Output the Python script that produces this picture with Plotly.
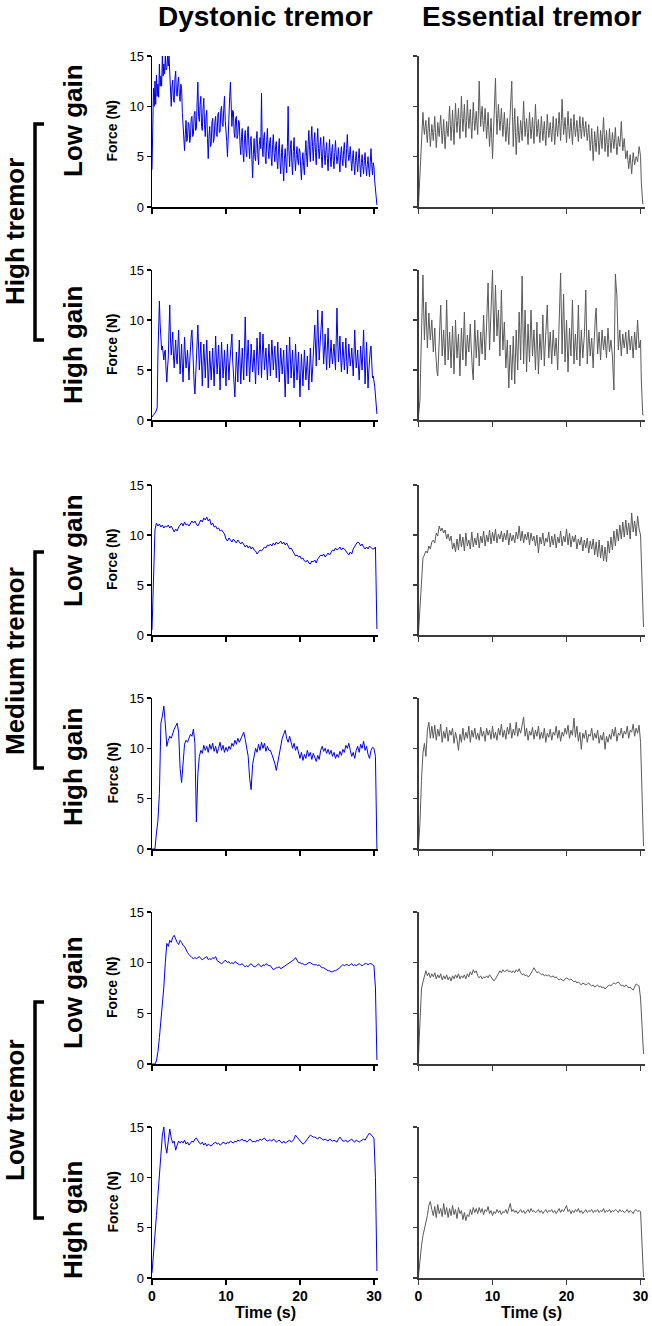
import plotly.graph_objects as go

# ---------------- data (force in N) ----------------
# high-tremor traces sampled every 0.1 s, the others every 0.2 s
STEP_FAST = 0.1
STEP_SLOW = 0.2

# Dystonic tremor
dt_high_low = [
    3.7, 9.5, 11.8, 10.0, 12.5, 10.2, 13.1, 11.0, 12.2, 10.9, 14.2, 12.0, 13.0, 12.0, 15.0, 13.0, 14.2, 13.2, 15.0, 13.6,
    13.8, 15.0, 14.0, 15.0, 12.9, 11.5, 10.0, 12.0, 12.6, 10.6, 10.4, 12.8, 13.5, 11.2, 11.0, 12.4, 12.9, 11.0, 10.5, 12.2,
    11.8, 9.4, 8.0, 7.0, 5.6, 7.2, 8.6, 6.5, 6.8, 8.4, 8.2, 6.4, 6.9, 8.8, 9.0, 7.0, 7.2, 9.2, 9.5, 7.6,
    7.8, 10.5, 12.4, 9.0, 8.5, 10.2, 11.0, 8.0, 7.6, 9.8, 10.8, 8.2, 7.0, 9.0, 9.6, 6.8, 4.8, 7.0, 8.0, 6.0,
    6.2, 8.4, 8.8, 6.4, 6.8, 8.5, 9.0, 7.2, 7.0, 9.2, 9.4, 7.4, 7.5, 9.6, 10.0, 8.2, 8.0, 9.8, 11.0, 8.6,
    7.8, 6.5, 5.0, 8.0, 9.5, 11.0, 12.4, 9.0, 8.0, 9.6, 9.5, 7.4, 6.9, 8.8, 9.0, 6.8, 7.2, 8.6, 8.4, 6.2,
    5.2, 7.0, 7.8, 5.4, 4.5, 6.8, 7.6, 5.6, 5.0, 7.4, 8.0, 6.0, 4.8, 6.6, 7.0, 4.8, 2.9, 5.2, 6.8, 5.0,
    4.6, 6.8, 7.5, 5.2, 4.2, 6.2, 6.9, 5.8, 11.3, 6.0, 5.0, 6.9, 7.4, 5.0, 4.3, 6.6, 7.8, 5.6, 4.8, 6.4,
    6.9, 5.0, 4.1, 6.2, 7.2, 5.4, 4.5, 6.0, 6.5, 4.6, 3.8, 5.8, 6.8, 4.4, 3.3, 5.4, 6.2, 4.0, 2.6, 4.8,
    5.8, 4.4, 3.4, 6.0, 10.0, 5.6, 4.0, 5.8, 6.6, 4.4, 3.2, 5.5, 6.9, 4.8, 3.6, 5.2, 6.0, 4.6, 4.2, 5.8,
    5.5, 3.8, 2.7, 4.6, 5.4, 4.0, 3.2, 5.4, 6.6, 5.0, 4.0, 6.2, 7.6, 5.6, 4.5, 6.6, 8.0, 6.0, 4.6, 6.4,
    7.4, 5.4, 4.2, 6.4, 7.8, 5.8, 4.8, 6.0, 6.9, 5.0, 3.9, 5.8, 7.0, 5.2, 4.2, 5.6, 6.4, 4.8, 3.6, 5.4,
    6.7, 5.0, 4.0, 5.6, 6.2, 4.6, 3.8, 5.4, 6.6, 5.2, 4.3, 5.0, 5.9, 4.4, 3.5, 5.2, 6.0, 4.8, 4.1, 5.6,
    6.4, 4.8, 3.9, 5.8, 7.2, 5.4, 4.6, 5.2, 6.0, 4.6, 3.6, 4.8, 5.6, 4.2, 3.2, 4.6, 5.5, 4.4, 3.5, 4.8,
    5.8, 4.2, 3.0, 4.4, 5.2, 4.0, 3.3, 4.6, 5.4, 4.0, 3.1, 4.2, 5.0, 3.8, 3.0, 4.4, 5.8, 4.2, 3.2, 4.4,
    4.0, 2.6, 1.5, 0.6, 0.2,
]
dt_high_high = [
    0.3, 0.4, 0.5, 0.5, 0.6, 0.8, 1.0, 1.2, 6.5, 10.0, 11.9, 9.6, 8.3, 7.0, 7.4, 6.2, 6.0, 6.8, 7.0, 5.0,
    3.8, 5.2, 6.2, 9.0, 11.5, 8.0, 6.5, 7.6, 8.8, 6.4, 5.2, 6.8, 8.0, 6.2, 5.6, 7.4, 9.0, 6.6, 4.6, 6.0,
    7.6, 5.4, 3.8, 6.2, 8.3, 6.6, 5.2, 6.0, 7.0, 5.6, 4.0, 5.8, 7.8, 8.4, 9.0, 6.6, 5.0, 3.6, 2.6, 4.8,
    7.0, 8.4, 9.5, 7.2, 5.0, 6.4, 7.8, 5.6, 3.4, 5.8, 7.6, 6.0, 4.2, 6.2, 8.0, 5.8, 3.2, 5.0, 6.9, 5.4,
    4.0, 5.6, 7.2, 5.2, 3.4, 6.0, 8.4, 6.2, 4.6, 6.0, 7.5, 5.4, 3.0, 5.6, 7.8, 6.0, 4.2, 5.4, 7.0, 5.2,
    3.4, 5.8, 7.6, 5.6, 4.0, 5.6, 7.1, 7.8, 8.6, 6.0, 4.2, 3.0, 2.3, 4.6, 6.8, 5.4, 3.8, 6.0, 8.0, 5.8,
    3.6, 5.4, 7.2, 5.6, 4.0, 7.0, 10.3, 7.2, 4.4, 6.4, 8.0, 5.8, 3.8, 5.6, 7.6, 6.2, 4.8, 5.8, 7.0, 5.2,
    3.6, 6.0, 8.2, 6.4, 4.5, 6.6, 8.8, 6.6, 4.2, 6.4, 8.6, 6.8, 5.0, 6.2, 7.2, 5.6, 4.0, 5.8, 7.6, 6.0,
    4.4, 6.2, 8.0, 6.6, 5.0, 6.4, 7.4, 5.8, 4.2, 6.0, 7.8, 5.8, 3.8, 5.6, 7.2, 5.8, 4.6, 5.8, 7.0, 4.6,
    2.3, 4.8, 7.5, 5.6, 3.6, 6.0, 8.3, 6.2, 4.2, 5.6, 7.0, 5.0, 3.2, 5.4, 7.6, 5.8, 4.0, 5.4, 6.8, 4.6,
    2.3, 4.6, 6.6, 5.0, 3.4, 5.2, 7.0, 5.4, 4.0, 5.2, 6.4, 4.6, 3.0, 5.0, 7.2, 5.4, 3.8, 5.0, 6.0, 8.0,
    9.5, 7.0, 5.4, 8.2, 11.0, 8.0, 6.0, 7.4, 8.8, 9.8, 10.9, 7.8, 5.6, 7.0, 8.6, 6.8, 5.0, 7.2, 9.2, 7.0,
    5.2, 6.6, 8.0, 6.4, 5.6, 6.8, 7.6, 6.2, 5.0, 8.0, 11.2, 8.0, 5.8, 7.0, 8.4, 6.4, 4.8, 6.2, 7.8, 6.4,
    5.0, 6.6, 8.2, 6.2, 4.6, 6.0, 7.6, 6.4, 5.4, 6.2, 7.2, 5.8, 4.4, 6.6, 9.0, 7.0, 5.2, 6.0, 7.0, 5.4,
    4.0, 5.6, 7.4, 6.0, 5.0, 7.0, 9.0, 6.2, 3.6, 5.6, 7.8, 5.4, 3.2, 4.8, 6.4, 7.0, 7.4, 5.6, 4.2, 4.4,
    4.0, 3.4, 2.5, 1.4, 0.6,
]
dt_med_low = [
    0.5, 5.5, 10.5, 11.2, 10.9, 11.1, 10.8, 11.0, 10.7, 10.9,
    10.8, 11.0, 10.7, 10.9, 10.5, 10.3, 10.6, 10.4, 10.8, 11.0,
    11.2, 10.9, 11.3, 11.0, 11.1, 10.9, 11.2, 11.4, 11.2, 11.4,
    11.1, 10.9, 11.2, 11.5, 11.3, 11.7, 11.5, 11.8, 11.4, 11.6,
    11.0, 11.2, 10.8, 10.9, 10.6, 10.7, 10.4, 10.5, 10.3, 10.1,
    9.6, 9.4, 9.7, 9.5, 9.3, 9.6, 9.4, 9.2, 9.5, 9.3,
    9.1, 9.3, 9.0, 8.8, 9.0, 8.7, 8.9, 8.6, 8.8, 8.5,
    8.4, 8.1, 8.3, 8.5, 8.4, 8.6, 8.8, 8.7, 9.0, 8.9,
    9.1, 8.9, 9.2, 9.0, 9.3, 9.1, 9.2, 9.4, 9.1, 9.3,
    9.0, 9.2, 8.9, 8.6, 8.7, 8.4, 8.2, 7.9, 8.0, 7.8,
    7.9, 7.6, 7.7, 7.4, 7.3, 7.5, 7.2, 7.1, 7.4, 7.3,
    7.5, 7.2, 7.6, 7.8, 8.0, 7.9, 8.1, 7.8, 8.0, 8.2,
    8.0, 8.3, 8.5, 8.4, 8.7, 8.5, 8.6, 8.8, 8.5, 8.7,
    8.6, 8.4, 8.2, 8.0, 8.3, 8.1, 8.6, 8.9, 9.1, 9.3,
    9.2, 8.9, 9.1, 8.8, 8.6, 8.8, 8.6, 8.9, 8.7, 8.6,
    8.6, 8.8, 0.6,
]
dt_med_high = [
    0.0, 0.0, 0.0, 1.6, 2.8, 5.5, 12.5, 13.2, 14.2, 12.4,
    10.2, 10.8, 11.2, 11.0, 11.6, 11.9, 12.2, 12.5, 11.6, 8.0,
    6.6, 8.6, 10.4, 10.8, 10.6, 11.0, 11.4, 11.2, 11.9, 10.5,
    2.7, 7.5, 9.2, 9.8, 9.5, 10.3, 9.8, 10.2, 9.6, 10.4,
    9.9, 10.5, 9.7, 10.2, 9.5, 10.0, 10.6, 9.8, 10.3, 9.6,
    10.1, 9.7, 10.2, 9.9, 10.5, 10.2, 10.8, 10.4, 11.0, 10.6,
    11.0, 11.4, 11.6, 10.9, 10.2, 9.2, 7.0, 5.9, 8.4, 9.4,
    10.0, 9.6, 10.4, 9.8, 10.6, 10.0, 10.5, 9.7, 10.2, 9.8,
    9.8, 9.4, 9.0, 8.5, 7.8, 8.6, 9.8, 10.5, 11.0, 11.4,
    11.8, 11.0, 10.6, 11.2, 10.4, 10.0, 10.5, 9.8, 10.2, 9.4,
    9.0, 9.6, 8.8, 9.4, 9.0, 9.8, 9.2, 9.6, 8.9, 9.5,
    9.1, 8.7, 9.3, 8.9, 9.8, 10.2, 9.7, 10.0, 9.5, 9.9,
    9.4, 9.8, 9.2, 9.6, 9.0, 9.4, 9.1, 9.7, 9.3, 9.9,
    9.6, 10.3, 10.0, 10.5, 9.8, 9.2, 9.6, 9.0, 9.8, 10.2,
    9.6, 10.4, 10.0, 10.7, 9.8, 10.2, 9.4, 9.0, 9.8, 10.1,
    10.0, 9.2, 0.0,
]
dt_low_low = [
    0.0, 0.0, 0.0, 0.3, 1.2, 2.6, 4.2, 5.9, 7.6, 10.0,
    11.9, 11.6, 12.2, 12.0, 12.5, 12.7, 12.3, 12.0, 11.8, 12.2,
    12.0, 11.7, 11.6, 11.2, 11.0, 10.8, 10.6, 10.5, 10.4, 10.5,
    10.4, 10.5, 10.6, 10.4, 10.3, 10.4, 10.5, 10.6, 10.3, 10.4,
    10.3, 10.5, 10.4, 10.6, 10.2, 10.1, 10.0, 9.9, 10.0, 10.2,
    10.2, 10.0, 10.1, 9.9, 10.0, 9.9, 10.1, 10.0, 9.9, 9.8,
    9.8, 9.9, 9.7, 9.6, 9.7, 9.6, 9.8, 9.9, 9.7, 9.6,
    9.6, 9.8, 9.9, 9.7, 9.6, 9.8, 9.7, 9.9, 9.8, 9.7,
    9.7, 9.5, 9.3, 9.4, 9.5, 9.5, 9.6, 9.4, 9.5, 9.6,
    9.7, 9.8, 9.9, 10.0, 10.1, 10.2, 10.3, 10.5, 10.2, 10.0,
    10.0, 9.9, 9.9, 9.8, 9.8, 9.9, 10.0, 10.0, 9.9, 9.8,
    9.8, 9.8, 9.7, 9.8, 9.6, 9.5, 9.5, 9.4, 9.3, 9.2,
    9.2, 9.1, 9.1, 9.2, 9.2, 9.3, 9.4, 9.5, 9.7, 9.8,
    9.7, 9.8, 9.8, 9.7, 9.8, 9.9, 9.7, 9.8, 9.7, 9.8,
    9.9, 9.8, 9.7, 9.8, 9.9, 9.9, 9.8, 9.9, 9.9, 9.8,
    9.7, 7.5, 0.4,
]
dt_low_high = [
    0.5, 2.2, 4.2, 6.2, 8.2, 10.2, 12.2, 14.2, 15.0, 13.2,
    12.4, 13.8, 14.8, 13.9, 13.4, 13.6, 12.7, 13.2, 13.6, 13.4,
    13.6, 13.4, 13.7, 13.3, 13.5, 13.2, 13.4, 13.6, 13.5, 13.8,
    13.9, 13.6, 13.4, 13.3, 13.5, 13.2, 13.4, 13.1, 13.3, 13.2,
    13.1, 13.3, 13.4, 13.5, 13.3, 13.4, 13.2, 13.3, 13.5, 13.4,
    13.3, 13.5, 13.4, 13.6, 13.5, 13.4, 13.6, 13.5, 13.7, 13.6,
    13.7, 13.8, 13.6, 13.7, 13.5, 13.6, 13.8, 13.7, 13.5, 13.6,
    13.5, 13.7, 13.6, 13.8, 13.7, 13.8, 13.9, 13.7, 13.6, 13.7,
    13.7, 13.6, 13.8, 13.7, 13.5, 13.6, 13.7, 13.5, 13.4, 13.6,
    13.4, 13.5, 13.6, 13.7, 13.5, 13.6, 13.8, 14.2, 14.0, 13.8,
    13.7, 13.5, 13.3, 13.4, 13.6, 13.8, 14.0, 14.2, 14.1, 14.0,
    14.0, 13.9, 13.8, 14.0, 13.9, 13.8, 13.7, 13.8, 13.7, 13.6,
    13.8, 13.7, 13.6, 13.7, 13.6, 13.5, 13.8, 14.0, 13.8, 13.6,
    13.6, 13.7, 13.5, 13.6, 13.7, 13.8, 13.6, 13.5, 13.7, 13.6,
    13.5, 13.6, 13.7, 13.8, 13.7, 14.0, 14.2, 14.4, 14.2, 14.0,
    13.9, 10.0, 0.7,
]

# Essential tremor
et_high_low = [
    0.2, 1.8, 3.5, 5.2, 6.5, 8.0, 9.4, 8.0, 7.2, 8.0, 8.6, 7.2, 6.4, 7.8, 8.9, 7.4, 6.0, 7.0, 8.2, 7.4,
    6.6, 7.8, 9.0, 7.4, 5.9, 7.0, 8.4, 7.6, 7.0, 8.2, 9.1, 7.6, 6.3, 7.4, 8.7, 7.0, 5.8, 7.2, 8.5, 7.6,
    7.0, 8.6, 10.0, 8.2, 6.6, 8.0, 9.6, 7.8, 6.2, 8.4, 10.3, 8.6, 7.4, 8.6, 9.8, 8.2, 6.8, 8.8, 11.0, 9.0,
    7.5, 8.8, 10.2, 8.4, 6.9, 8.6, 10.6, 9.0, 7.8, 8.8, 9.7, 8.0, 6.8, 8.6, 10.4, 8.8, 7.6, 8.6, 9.5, 8.2,
    7.2, 9.6, 12.5, 9.8, 8.0, 9.2, 10.0, 8.6, 7.5, 8.6, 9.8, 8.2, 6.8, 8.0, 9.4, 7.6, 6.0, 7.4, 8.8, 6.8,
    4.8, 6.8, 8.9, 11.0, 12.8, 9.6, 7.2, 8.8, 10.2, 8.8, 7.6, 8.6, 9.8, 8.4, 7.0, 8.2, 9.4, 8.0, 6.5, 7.6,
    8.8, 7.4, 6.2, 8.0, 9.5, 11.0, 12.5, 9.0, 6.0, 8.0, 9.8, 7.4, 5.2, 7.0, 9.0, 7.6, 6.4, 7.4, 8.6, 7.6,
    6.6, 8.6, 10.5, 8.6, 7.0, 8.0, 8.8, 7.4, 6.2, 7.8, 9.4, 8.0, 6.8, 7.8, 8.9, 7.6, 6.3, 8.2, 10.2, 8.6,
    7.0, 7.8, 8.7, 7.4, 6.4, 7.6, 9.0, 7.8, 6.6, 7.6, 8.5, 7.2, 6.1, 7.6, 9.2, 8.0, 6.9, 7.6, 8.4, 7.4,
    6.5, 7.8, 9.0, 7.6, 6.2, 7.4, 8.8, 7.8, 7.0, 8.2, 9.4, 8.0, 6.6, 8.6, 10.7, 8.8, 7.2, 8.0, 8.9, 7.6,
    6.4, 8.0, 9.5, 8.0, 6.8, 7.8, 8.8, 7.4, 6.2, 7.6, 9.2, 8.0, 7.0, 7.8, 8.6, 7.4, 6.5, 7.8, 9.0, 7.8,
    6.8, 7.8, 8.9, 8.0, 7.0, 7.8, 8.5, 7.4, 6.6, 7.4, 8.2, 6.8, 5.6, 6.6, 7.8, 6.2, 4.6, 6.0, 7.5, 6.4,
    5.5, 6.8, 8.0, 6.6, 5.2, 6.4, 7.6, 6.6, 5.8, 7.4, 8.9, 7.2, 5.5, 6.4, 7.6, 6.2, 5.0, 6.4, 7.8, 6.6,
    5.4, 6.4, 7.4, 6.6, 5.8, 6.8, 7.9, 6.4, 5.2, 6.0, 7.0, 6.4, 6.0, 7.2, 8.5, 7.0, 5.6, 6.2, 6.8, 5.8,
    4.8, 5.2, 5.6, 4.6, 3.8, 4.6, 5.2, 4.2, 3.3, 4.4, 5.4, 4.8, 4.2, 4.6, 5.0, 4.8, 4.5, 5.2, 6.0, 5.6,
    5.0, 2.5, 0.3, 0.3, 0.3,
]
et_high_high = [
    0.4, 1.0, 2.0, 5.5, 9.0, 12.0, 14.5, 11.0, 8.0, 10.0, 11.8, 9.4, 7.2, 9.0, 10.7, 9.2, 8.0, 9.0, 10.0, 8.4,
    6.8, 8.0, 9.2, 7.0, 5.2, 4.8, 4.4, 6.4, 8.6, 10.0, 11.5, 8.8, 6.4, 7.8, 9.0, 7.0, 5.5, 8.6, 12.0, 9.0,
    6.0, 7.4, 8.8, 7.0, 5.2, 7.4, 9.4, 7.0, 4.6, 7.2, 10.0, 8.0, 6.2, 7.4, 8.6, 6.4, 4.4, 6.8, 9.2, 7.6,
    6.0, 8.4, 10.8, 8.0, 5.4, 7.0, 8.5, 7.6, 6.8, 8.2, 9.6, 7.6, 5.6, 4.8, 4.0, 7.0, 10.0, 8.0, 6.2, 7.6,
    9.0, 7.2, 5.4, 7.2, 8.8, 7.6, 6.6, 8.6, 10.5, 8.2, 6.0, 7.6, 9.2, 11.4, 13.7, 10.2, 7.0, 9.0, 11.0, 13.0,
    15.0, 11.0, 7.8, 10.6, 13.5, 11.0, 8.4, 9.8, 11.0, 8.6, 6.4, 9.6, 13.0, 9.8, 7.0, 8.4, 9.8, 7.4, 5.2, 6.6,
    8.0, 5.6, 3.2, 5.4, 7.5, 5.8, 4.0, 6.2, 8.4, 6.0, 3.6, 6.4, 9.0, 7.0, 5.0, 8.0, 10.8, 8.4, 6.0, 10.2,
    14.4, 9.8, 5.6, 8.2, 11.0, 8.0, 4.8, 7.2, 9.6, 7.6, 5.8, 8.4, 11.0, 8.6, 6.4, 7.8, 9.0, 7.0, 5.0, 7.4,
    9.8, 7.2, 4.6, 6.6, 8.6, 7.4, 6.0, 8.2, 10.5, 8.0, 5.4, 7.2, 9.0, 10.2, 11.5, 8.8, 6.2, 7.6, 8.8, 7.2,
    5.6, 7.4, 9.0, 7.6, 6.4, 7.4, 8.2, 6.6, 5.0, 7.2, 9.4, 12.0, 14.7, 10.6, 6.6, 9.6, 12.6, 9.2, 5.8, 7.8,
    10.0, 7.4, 4.8, 7.0, 9.2, 7.8, 6.4, 9.2, 12.0, 8.8, 5.6, 7.2, 8.6, 7.2, 6.0, 8.8, 11.5, 8.4, 5.4, 7.2,
    9.0, 7.6, 6.2, 7.4, 8.4, 10.6, 13.0, 9.2, 5.6, 7.4, 9.0, 7.8, 6.4, 7.4, 8.2, 6.6, 5.2, 7.4, 9.6, 10.4,
    11.2, 8.8, 6.6, 7.8, 8.8, 7.4, 6.0, 7.6, 9.0, 8.0, 7.0, 7.8, 8.4, 7.2, 6.2, 7.8, 9.2, 8.0, 6.8, 7.4,
    8.0, 7.2, 6.4, 4.6, 3.0, 9.0, 14.6, 13.4, 12.5, 9.6, 7.0, 8.0, 9.0, 7.6, 6.4, 7.6, 8.6, 7.8, 7.2, 8.0,
    8.8, 7.6, 6.6, 7.8, 9.0, 8.0, 7.0, 7.8, 8.4, 7.2, 6.2, 7.6, 8.8, 7.8, 7.0, 8.6, 10.0, 8.6, 7.2, 7.6,
    8.0, 4.0, 0.5, 0.5, 0.5,
]
et_med_low = [
    0.2, 3.0, 6.0, 7.7, 8.0, 8.4, 8.2, 8.9, 8.6, 9.3,
    9.5, 9.2, 10.2, 9.9, 10.9, 10.4, 10.7, 10.2, 10.5, 9.6,
    10.1, 9.4, 9.9, 8.6, 9.2, 8.3, 9.6, 8.5, 10.1, 8.8,
    9.8, 8.4, 10.2, 8.9, 9.5, 8.6, 10.3, 8.8, 9.7, 9.0,
    10.2, 8.7, 9.9, 9.2, 10.4, 8.9, 10.0, 9.3, 10.5, 9.1,
    10.3, 9.4, 10.6, 9.2, 10.1, 9.6, 10.4, 9.3, 10.2, 9.5,
    10.5, 9.0, 10.2, 9.4, 10.0, 9.2, 10.3, 9.6, 10.9, 9.4,
    10.4, 9.2, 10.1, 9.5, 10.3, 9.0, 10.2, 9.4, 9.9, 8.9,
    10.0, 8.2, 9.8, 9.1, 10.2, 8.9, 9.7, 9.3, 10.3, 8.8,
    9.9, 9.0, 10.1, 8.7, 9.8, 9.2, 10.4, 8.9, 9.9, 9.3,
    10.6, 9.0, 10.2, 8.8, 9.9, 9.3, 10.0, 8.6, 9.6, 9.0,
    9.8, 8.4, 9.5, 8.7, 9.7, 8.2, 9.4, 8.6, 9.6, 8.0,
    9.3, 7.8, 9.5, 7.7, 9.0, 7.4, 8.8, 7.3, 9.4, 8.2,
    9.8, 8.5, 10.4, 8.9, 10.6, 9.4, 11.0, 9.6, 11.3, 9.8,
    11.5, 10.0, 11.2, 9.6, 12.2, 10.3, 11.4, 9.9, 11.9, 10.6,
    10.0, 5.5, 0.8,
]
et_med_high = [
    0.3, 2.6, 6.8, 9.5, 10.5, 9.2, 11.8, 12.6, 11.0, 12.2,
    11.0, 12.3, 10.8, 11.9, 11.2, 12.4, 10.6, 11.7, 11.0, 12.1,
    10.7, 11.8, 11.3, 12.0, 10.5, 11.6, 10.9, 9.8, 11.4, 10.6,
    12.0, 10.8, 11.6, 11.0, 12.2, 10.6, 11.8, 11.1, 12.0, 10.9,
    11.5, 10.8, 12.1, 11.2, 11.7, 10.7, 12.0, 11.3, 11.8, 10.9,
    12.2, 11.0, 11.6, 10.8, 12.0, 11.3, 12.4, 11.1, 11.8, 10.9,
    12.1, 11.4, 12.5, 11.0, 11.9, 11.3, 12.6, 11.2, 12.0, 11.5,
    12.3, 13.1, 11.2, 12.0, 10.8, 11.7, 11.3, 12.1, 10.9, 11.8,
    11.2, 12.2, 10.9, 11.6, 11.0, 12.0, 10.6, 11.5, 11.1, 11.9,
    10.8, 11.6, 11.3, 12.2, 11.0, 11.8, 10.7, 11.6, 11.2, 12.0,
    11.4, 12.3, 11.0, 11.8, 11.3, 13.0, 11.1, 12.2, 10.7, 11.6,
    9.9, 11.5, 11.0, 11.8, 10.6, 11.4, 11.2, 12.0, 10.8, 11.5,
    11.0, 11.8, 10.5, 11.3, 10.8, 11.6, 9.9, 11.2, 10.6, 11.4,
    10.9, 11.9, 11.2, 12.1, 10.7, 11.5, 11.3, 12.0, 11.0, 11.7,
    11.4, 12.2, 11.0, 11.8, 11.6, 12.4, 11.2, 12.0, 11.5, 12.3,
    10.6, 5.0, 0.3,
]
et_low_low = [
    0.8, 5.0, 7.4, 8.1, 8.8, 9.2, 8.7, 9.0, 8.5, 8.9,
    8.6, 9.0, 8.4, 8.8, 8.5, 8.9, 8.3, 8.7, 8.4, 8.8,
    8.3, 8.6, 8.2, 8.7, 8.4, 8.8, 8.5, 8.9, 8.4, 8.7,
    8.5, 8.8, 8.4, 8.9, 8.6, 9.1, 8.8, 9.3, 9.0, 9.2,
    8.7, 8.5, 8.7, 8.4, 8.6, 8.5, 8.7, 8.5, 8.8, 8.6,
    8.5, 8.2, 8.4, 8.7, 9.0, 9.2, 9.0, 9.3, 9.1, 9.2,
    9.3, 9.1, 9.2, 9.0, 9.2, 9.0, 9.3, 9.1, 9.4, 9.0,
    8.8, 8.9, 8.7, 8.8, 8.6, 8.7, 8.9, 9.2, 9.5, 9.2,
    9.0, 9.1, 8.9, 8.8, 8.9, 8.7, 8.8, 8.7, 8.8, 8.6,
    8.6, 8.7, 8.5, 8.6, 8.4, 8.3, 8.4, 8.3, 8.2, 8.4,
    8.5, 8.4, 8.3, 8.4, 8.2, 8.1, 8.2, 8.0, 8.1, 7.9,
    7.8, 8.0, 7.9, 7.8, 7.9, 8.0, 7.8, 7.7, 7.8, 7.6,
    7.7, 7.8, 7.6, 7.7, 7.5, 7.6, 7.4, 7.6, 7.7, 7.8,
    7.7, 7.9, 8.0, 7.9, 8.0, 8.1, 7.9, 7.7, 7.8, 7.6,
    7.8, 7.7, 7.5, 7.6, 7.4, 7.3, 7.6, 7.9, 7.8, 7.7,
    6.5, 4.0, 1.0,
]
et_low_high = [
    0.2, 2.0, 3.2, 4.2, 4.8, 5.5, 6.2, 7.2, 7.6, 6.8,
    6.2, 7.1, 6.0, 7.3, 6.4, 6.9, 6.1, 7.4, 6.3, 7.0,
    6.0, 6.9, 6.2, 7.2, 6.3, 6.8, 5.9, 7.0, 6.4, 6.7,
    5.8, 6.5, 5.7, 6.3, 6.1, 6.8, 6.3, 7.0, 6.5, 6.9,
    6.4, 7.0, 6.5, 6.9, 6.3, 6.8, 6.6, 7.1, 6.4, 6.7,
    6.2, 6.6, 6.4, 6.8, 6.5, 6.7, 6.3, 6.6, 6.5, 6.8,
    6.4, 6.9, 7.4, 6.6, 6.8, 6.5, 6.7, 6.4, 6.6, 6.8,
    6.5, 6.7, 6.4, 6.6, 6.8, 6.5, 6.9, 6.6, 6.7, 6.5,
    6.6, 6.8, 6.5, 6.7, 6.4, 6.6, 6.8, 6.5, 6.7, 6.6,
    6.8, 6.5, 6.7, 6.4, 6.6, 6.9, 6.5, 6.8, 6.6, 7.0,
    7.2, 6.6, 6.8, 6.4, 6.7, 6.5, 6.8, 6.6, 6.9, 6.5,
    6.7, 6.4, 6.6, 6.8, 6.5, 6.7, 6.6, 6.8, 6.5, 6.7,
    6.6, 6.8, 6.5, 6.7, 6.6, 6.9, 6.5, 6.7, 6.6, 6.8,
    6.5, 6.7, 6.6, 6.8, 6.7, 6.5, 6.8, 6.6, 6.7, 6.5,
    6.6, 6.8, 6.5, 6.7, 6.6, 6.4, 6.7, 6.8, 6.6, 6.7,
    6.6, 3.5, 0.1,
]

column_titles = ["Dystonic tremor", "Essential tremor"]
row_labels = ["Low gain", "High gain", "Low gain", "High gain", "Low gain", "High gain"]
group_labels = ["High tremor", "Medium tremor", "Low tremor"]
y_ticks = [0, 5, 10, 15]
x_ticks = [0, 10, 20, 30]
y_title = "Force (N)"
x_title = "Time (s)"

series_dt = [dt_high_low, dt_high_high, dt_med_low, dt_med_high, dt_low_low, dt_low_high]
series_et = [et_high_low, et_high_high, et_med_low, et_med_high, et_low_low, et_low_high]
row_steps = [STEP_FAST, STEP_FAST, STEP_SLOW, STEP_SLOW, STEP_SLOW, STEP_SLOW]

# ---------------- layout geometry (pixels) ----------------
W, H = 652, 1326
FONT = "Liberation Sans, Arial, Helvetica, sans-serif"
COL_X = [(152, 378.4), (418.5, 645)]
ROW_TOP = [56, 270, 485, 698, 912, 1127]
ROW_BOT = [207, 420, 635, 849, 1064, 1278]
ROW_LABEL_Y = [121, 345, 551, 767, 993, 1220]
GROUP_Y = [232, 661, 1110]
BRACKETS = [(124, 340), (552, 768), (1002, 1218)]
COLORS = ["#0000f0", "#5a5a5a"]
AXIS_COLORS = ["#000000", "#3c3c3c"]


def fx(p):
    return p / W


def fy(p):
    return 1 - p / H


fig = go.Figure()
layout = dict(
    width=W, height=H, autosize=False,
    margin=dict(l=0, r=0, t=0, b=0),
    paper_bgcolor="white", plot_bgcolor="white",
    showlegend=False,
    font=dict(family=FONT, color="black"),
)

for r in range(6):
    for c in range(2):
        idx = r * 2 + c + 1
        xname = "x" if idx == 1 else f"x{idx}"
        yname = "y" if idx == 1 else f"y{idx}"
        xkey = "xaxis" if idx == 1 else f"xaxis{idx}"
        ykey = "yaxis" if idx == 1 else f"yaxis{idx}"
        vals = (series_dt if c == 0 else series_et)[r]
        step = row_steps[r]
        t = [round(i * step, 2) for i in range(len(vals))]
        fig.add_trace(go.Scatter(
            x=t, y=vals, mode="lines", xaxis=xname, yaxis=yname,
            line=dict(color=COLORS[c], width=1), hoverinfo="skip",
        ))
        layout[xkey] = dict(
            domain=[fx(COL_X[c][0]), fx(COL_X[c][1])], anchor=yname,
            range=[0, 30.6], tickvals=x_ticks, ticks="outside", ticklen=5,
            tickwidth=1.5, tickcolor=AXIS_COLORS[c],
            showline=True, linecolor=AXIS_COLORS[c], linewidth=1.5,
            showgrid=False, zeroline=False, automargin=False,
            showticklabels=(r == 5),
            tickfont=dict(family=FONT, size=14, color="black", weight="bold"),
        )
        layout[ykey] = dict(
            domain=[fy(ROW_BOT[r]), fy(ROW_TOP[r])], anchor=xname,
            range=[0, 15], tickvals=y_ticks, ticks="outside", ticklen=4,
            tickwidth=1.5, tickcolor=AXIS_COLORS[c],
            showline=True, linecolor=AXIS_COLORS[c], linewidth=1.5,
            showgrid=False, zeroline=False, automargin=False,
            showticklabels=(c == 0),
            tickfont=dict(family=FONT, size=13, color="black"),
        )

annotations = []
for c, title in enumerate(column_titles):
    annotations.append(dict(
        text=title, x=fx((COL_X[c][0] + COL_X[c][1]) / 2), y=fy(17),
        xref="paper", yref="paper", xanchor="center", yanchor="middle",
        showarrow=False, font=dict(family=FONT, size=28, weight="bold", color="black"),
    ))
for r in range(6):
    annotations.append(dict(
        text=row_labels[r], x=fx(73), y=fy(ROW_LABEL_Y[r]), textangle=-90,
        xref="paper", yref="paper", xanchor="center", yanchor="middle",
        showarrow=False, font=dict(family=FONT, size=26, weight="bold", color="black"),
    ))
    annotations.append(dict(
        text=y_title, x=fx(112), y=fy((ROW_TOP[r] + ROW_BOT[r]) / 2), textangle=-90,
        xref="paper", yref="paper", xanchor="center", yanchor="middle",
        showarrow=False, font=dict(family=FONT, size=14, weight="bold", color="black"),
    ))
for g, label in enumerate(group_labels):
    annotations.append(dict(
        text=label, x=fx(15), y=fy(GROUP_Y[g]), textangle=-90,
        xref="paper", yref="paper", xanchor="center", yanchor="middle",
        showarrow=False, font=dict(family=FONT, size=26, weight="bold", color="black"),
    ))
for c in range(2):
    annotations.append(dict(
        text=x_title, x=fx((COL_X[c][0] + COL_X[c][1]) / 2), y=fy(1312),
        xref="paper", yref="paper", xanchor="center", yanchor="middle",
        showarrow=False, font=dict(family=FONT, size=16, weight="bold", color="black"),
    ))
layout["annotations"] = annotations

shapes = []
for top, bot in BRACKETS:
    path = (f"M {fx(44)},{fy(top)} L {fx(35)},{fy(top)} "
            f"L {fx(35)},{fy(bot)} L {fx(44)},{fy(bot)}")
    shapes.append(dict(type="path", path=path, xref="paper", yref="paper",
                       line=dict(color="black", width=3.5)))
layout["shapes"] = shapes

fig.update_layout(**layout)
fig.write_html(
    "out.html",
    config={"displayModeBar": False, "staticPlot": True},
    post_script="document.body.style.margin='0';document.body.style.overflow='hidden';",
)
